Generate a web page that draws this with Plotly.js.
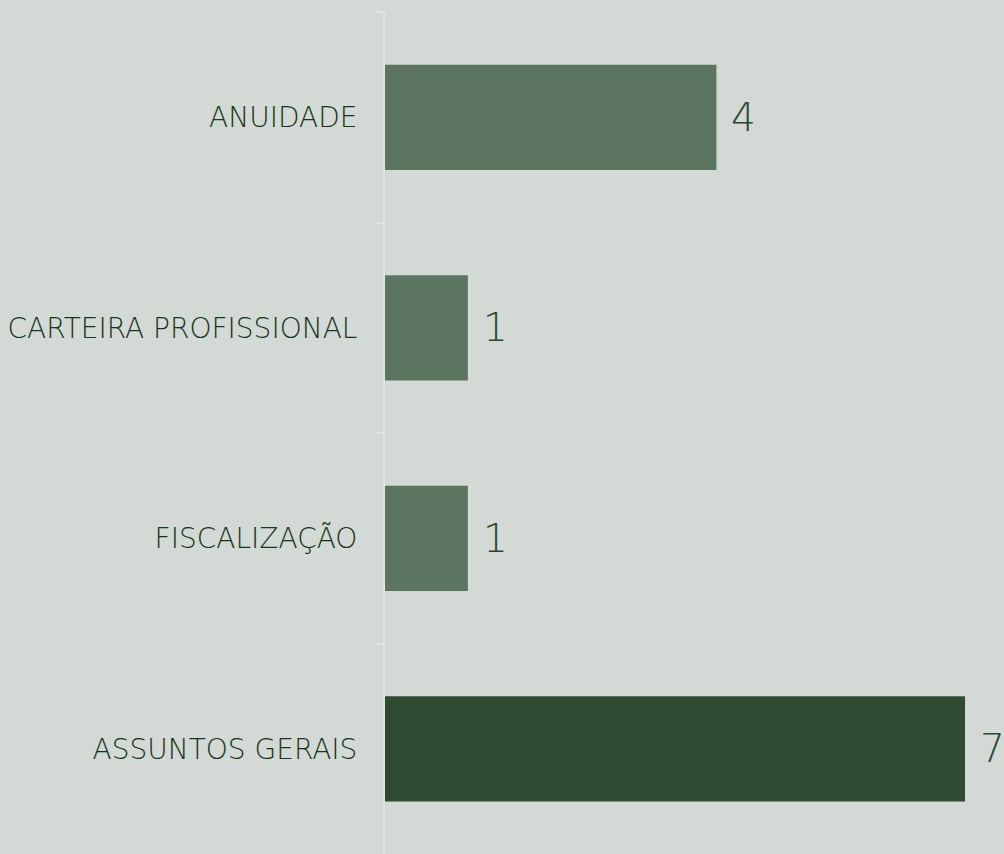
<!DOCTYPE html>
<html><head><meta charset="utf-8">
<script src="https://cdn.plot.ly/plotly-3.0.1.min.js"></script>
<style>html,body{margin:0;padding:0;background:#d3d9d4;}</style>
</head><body>
<div id="chart" style="width:1004px;height:854px;"></div>
<script>
const categories = ["ANUIDADE", "CARTEIRA PROFISSIONAL", "FISCALIZAÇÃO", "ASSUNTOS GERAIS"];
const values = [4, 1, 1, 7];
const barColors = ["#5b7561", "#5b7561", "#5b7561", "#2f4c33"];
const valueLabels = values.map(String);

const FONT = "DejaVu Sans, sans-serif";
const TXT = "#163520";

const trace = {
  type: "bar", orientation: "h",
  y: categories, x: values,
  marker: {color: barColors, line: {width: 0}},
  hoverinfo: "none",
  width: 0.5
};

const annotations = categories.map((c, i) => ({
  x: values[i], y: c, xref: "x", yref: "y",
  text: valueLabels[i], showarrow: false,
  xanchor: "left", yanchor: "middle", xshift: 13,
  font: {family: FONT, size: 39, color: "#2a4830", weight: 200}
}));

const layout = {
  width: 1004, height: 854,
  paper_bgcolor: "#d3d9d4", plot_bgcolor: "#d3d9d4",
  margin: {l: 385, r: 0, t: 12, b: 0},
  showlegend: false,
  bargap: 0.5,
  xaxis: {range: [0, 619/82.86], visible: false, fixedrange: true},
  yaxis: {
    type: "category", categoryorder: "array", categoryarray: categories,
    autorange: "reversed",
    showline: true, linecolor: "#e1e4e1", linewidth: 2,
    ticks: "outside", tickson: "boundaries", ticklen: 8, tickcolor: "#e1e4e1", tickwidth: 2,
    showgrid: false, zeroline: false,
    ticklabelstandoff: 20,
    tickfont: {family: FONT, size: 28, color: TXT, weight: 200}
  },
  annotations: annotations
};

Plotly.newPlot("chart", [trace], layout, {displayModeBar: false, staticPlot: true});
</script>
</body></html>
